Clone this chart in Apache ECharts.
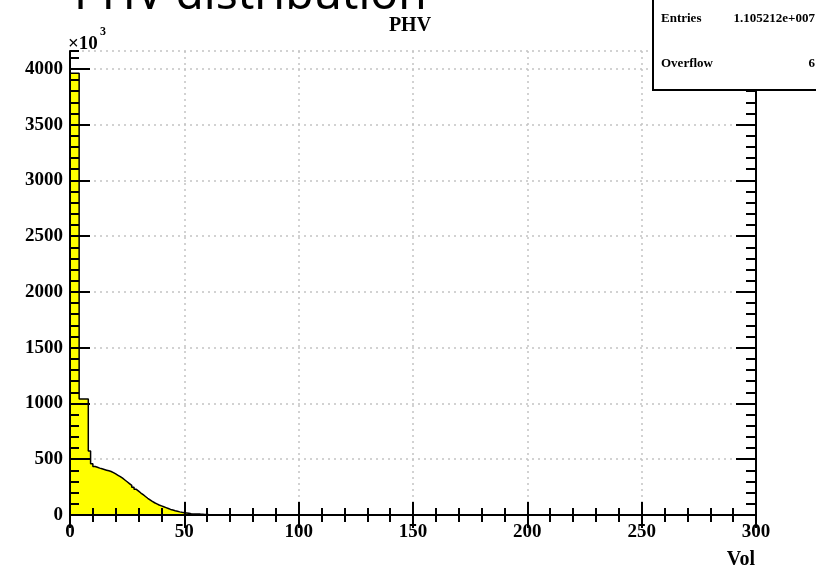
<!DOCTYPE html>
<html>
<head>
<meta charset="utf-8">
<script src="https://cdn.jsdelivr.net/npm/echarts@6/dist/echarts.min.js"></script>
<style>
  html, body { margin: 0; padding: 0; background: #fff; }
  #main { width: 816px; height: 572px; }
</style>
</head>
<body>
<div id="main"></div>
<script>
// histogram bins, width 1 Vol, counts in units of 10^3
var binWidth = 1;
var counts = [
  3960, 3960, 3960, 3960, 1040, 1040, 1040, 1040, 574, 460,
  434, 428, 420, 414, 408, 402, 396, 390, 380, 368,
  356, 344, 330, 314, 298, 282, 266, 248, 230, 214,
  197, 182, 166, 150, 136, 122, 110, 100, 90, 82,
  74, 66, 58, 50, 44, 38, 33, 28, 24, 21,
  18, 15, 12, 10, 8, 10, 8, 7, 5, 4,
  3, 2, 1, 1, 1, 1, 1
];
var xTicks = [0, 50, 100, 150, 200, 250, 300];
var yTicks = [0, 500, 1000, 1500, 2000, 2500, 3000, 3500, 4000];
var entries = '1.105212e+007';
var overflow = '6';

var xMax = 300;
var yMax = 4160;

var histData = [[0, 0]];
counts.forEach(function (c, i) { histData.push([i * binWidth, c]); });
histData.push([counts.length * binWidth, 0]);
histData.push([xMax, 0]);

var serif = 'Liberation Serif';
var lbl = { fontFamily: serif, fontWeight: 'bold', fontSize: 19, color: '#000',
  formatter: function (v) { return String(v); } };
var blackLine = { show: true, lineStyle: { color: '#000', width: 2 } };
var noLine = { show: false };
var dots = { show: true, lineStyle: { color: '#c4c4c4', width: 1.5, type: [2, 4] } };

var myChart = echarts.init(document.getElementById('main'));
var option = {
  animation: false,
  backgroundColor: '#fff',
  grid: { left: 70, right: 60, top: 51, bottom: 57 },
  xAxis: [
    {
      type: 'value', position: 'bottom', min: 0, max: xMax, interval: xTicks[1] - xTicks[0], z: 3,
      axisLine: blackLine,
      axisTick: { show: true, inside: true, length: 13, lineStyle: { color: '#000', width: 2 } },
      minorTick: { show: true, splitNumber: 5, length: 7, lineStyle: { color: '#000', width: 2 } },
      splitLine: noLine,
      axisLabel: Object.assign({ margin: 8 }, lbl)
    },
    {
      type: 'value', position: 'top', min: 0, max: xMax, interval: xTicks[1] - xTicks[0], z: 0,
      axisLine: blackLine,
      axisTick: { show: true, inside: true, length: 13, lineStyle: { color: '#000', width: 2 } },
      minorTick: { show: true, splitNumber: 5, length: 7, lineStyle: { color: '#000', width: 2 } },
      splitLine: dots,
      axisLabel: { show: false }
    }
  ],
  yAxis: [
    {
      type: 'value', position: 'left', min: 0, max: yMax, interval: yTicks[1] - yTicks[0], z: 3,
      axisLine: blackLine,
      axisTick: { show: true, inside: true, length: 20, lineStyle: { color: '#000', width: 2 } },
      splitLine: noLine,
      axisLabel: Object.assign({ margin: 7, showMaxLabel: false }, lbl)
    },
    {
      type: 'value', position: 'left', min: 0, max: yMax, interval: 100, z: 3,
      axisLine: noLine,
      axisTick: { show: true, inside: true, length: 9, lineStyle: { color: '#000', width: 2 } },
      splitLine: noLine,
      axisLabel: { show: false }
    },
    {
      type: 'value', position: 'right', min: 0, max: yMax, interval: yTicks[1] - yTicks[0], z: 0,
      axisLine: blackLine,
      axisTick: { show: true, inside: true, length: 20, lineStyle: { color: '#000', width: 2 } },
      splitLine: dots,
      axisLabel: { show: false }
    },
    {
      type: 'value', position: 'right', min: 0, max: yMax, interval: 100, z: 0,
      axisLine: noLine,
      axisTick: { show: true, inside: true, length: 10, lineStyle: { color: '#000', width: 2 } },
      splitLine: noLine,
      axisLabel: { show: false }
    }
  ],
  series: [
    {
      name: 'PHV',
      type: 'line',
      xAxisIndex: 0,
      yAxisIndex: 0,
      step: 'end',
      symbol: 'none',
      data: histData,
      lineStyle: { color: '#000', width: 1.5 },
      areaStyle: { color: '#ffff00', opacity: 1 }
    }
  ],
  graphic: [
    { type: 'text', left: 74, top: -27, z: 10,
      style: { text: 'PHV distribution', font: '46px "Noto Sans"', fill: '#000' } },
    { type: 'text', x: 410, y: 25.5, z: 10,
      style: { text: 'PHV', font: 'bold 20px "Liberation Serif"', fill: '#000', align: 'center', verticalAlign: 'middle' } },
    { type: 'text', x: 68, y: 44, z: 10,
      style: { text: '\u00d710', font: 'bold 19px "Liberation Serif"', fill: '#000', align: 'left', verticalAlign: 'middle' } },
    { type: 'text', x: 100, y: 32, z: 10,
      style: { text: '3', font: 'bold 12px "Liberation Serif"', fill: '#000', align: 'left', verticalAlign: 'middle' } },
    { type: 'text', x: 755, y: 560, z: 10,
      style: { text: 'Vol', font: 'bold 20px "Liberation Serif"', fill: '#000', align: 'right', verticalAlign: 'middle' } },
    { type: 'rect', z: 20, shape: { x: 653, y: -10, width: 180, height: 100 },
      style: { fill: '#fff', stroke: '#000', lineWidth: 2 } },
    { type: 'text', x: 661, y: 19, z: 21,
      style: { text: 'Entries', font: 'bold 13px "Liberation Serif"', fill: '#000', align: 'left', verticalAlign: 'middle' } },
    { type: 'text', x: 815, y: 19, z: 21,
      style: { text: entries, font: 'bold 13px "Liberation Serif"', fill: '#000', align: 'right', verticalAlign: 'middle' } },
    { type: 'text', x: 661, y: 64, z: 21,
      style: { text: 'Overflow', font: 'bold 13px "Liberation Serif"', fill: '#000', align: 'left', verticalAlign: 'middle' } },
    { type: 'text', x: 815, y: 64, z: 21,
      style: { text: overflow, font: 'bold 13px "Liberation Serif"', fill: '#000', align: 'right', verticalAlign: 'middle' } }
  ]
};
myChart.setOption(option);
</script>
</body>
</html>
